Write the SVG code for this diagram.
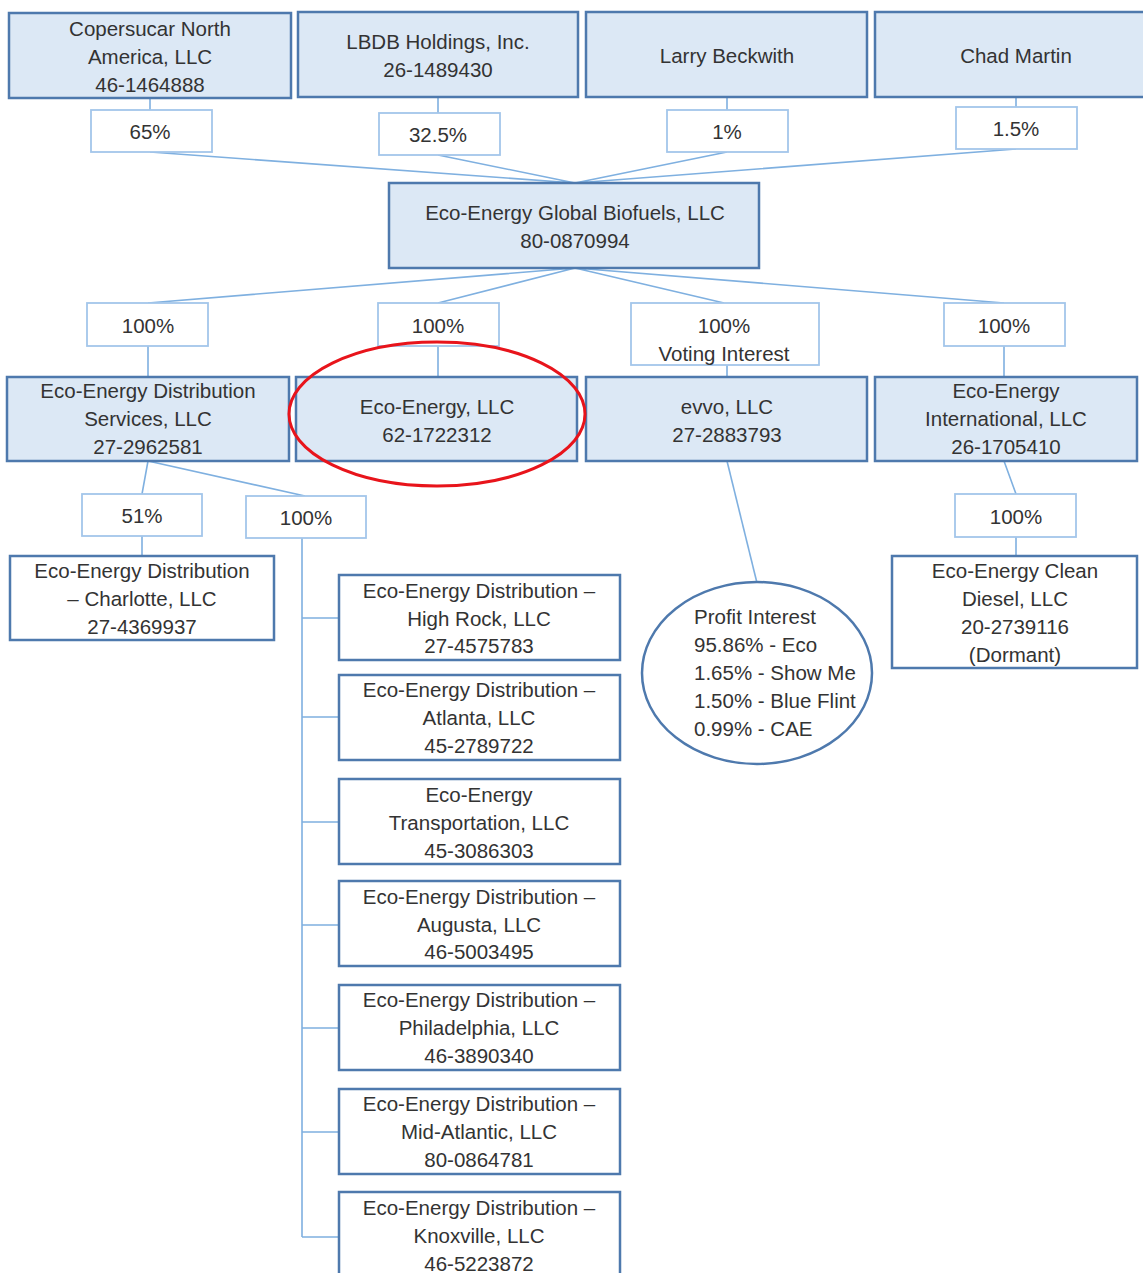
<svg xmlns="http://www.w3.org/2000/svg" width="1143" height="1273" viewBox="0 0 1143 1273">
<style>
text{font-family:"Liberation Sans",Arial,sans-serif;font-size:20.5px;fill:#333;text-anchor:middle}
.f{fill:#dce8f5;stroke:#4e79ad;stroke-width:2.5}
.w{fill:#fff;stroke:#4e79ad;stroke-width:2.5}
.p{fill:#fff;stroke:#a3c6ea;stroke-width:1.8}
.c{stroke:#7fb0e0;stroke-width:1.6;fill:none}
.l{text-anchor:start}
</style>
<rect width="1143" height="1273" fill="#fff"/>
<g id="connectors">
<path class="c" d="M150 98V110M438 97V113M727 97V110M1016 97V107"/>
<path class="c" d="M150 152L575 183M438 155L575 183M727 152L575 183M1016 149L575 183"/>
<path class="c" d="M575 268L148 303M575 268L438 303M575 268L724 303M575 268L1004 303"/>
<path class="c" d="M148 346V377M438 346V377M727 365V377M1004 346V377"/>
<path class="c" d="M148 461L142 494M148 461L305 496M142 536V556"/>
<path class="c" d="M302 538V1237M302 618H339M302 717H339M302 822H339M302 925H339M302 1028H339M302 1132H339M302 1237H339"/>
<path class="c" d="M727 461L757 583"/>
<path class="c" d="M1004 461L1016 494M1016 537V556"/>
</g>
<g id="n-copersucar"><rect class="f" x="9" y="13" width="282" height="85"/><text x="150" y="36">Copersucar North</text><text x="150" y="64">America, LLC</text><text x="150" y="92">46-1464888</text></g>
<g id="n-lbdb"><rect class="f" x="298" y="12" width="280" height="85"/><text x="438" y="49">LBDB Holdings, Inc.</text><text x="438" y="77">26-1489430</text></g>
<g id="n-larry"><rect class="f" x="586" y="12" width="281" height="85"/><text x="727" y="63">Larry Beckwith</text></g>
<g id="n-chad"><rect class="f" x="875" y="12" width="275" height="85"/><text x="1016" y="63">Chad Martin</text></g>
<g id="p-65"><rect class="p" x="91" y="110" width="121" height="42"/><text x="150" y="139">65%</text></g>
<g id="p-325"><rect class="p" x="379" y="113" width="121" height="42"/><text x="438" y="142">32.5%</text></g>
<g id="p-1"><rect class="p" x="667" y="110" width="121" height="42"/><text x="727" y="139">1%</text></g>
<g id="p-15"><rect class="p" x="956" y="107" width="121" height="42"/><text x="1016" y="136">1.5%</text></g>
<g id="n-global"><rect class="f" x="389" y="183" width="370" height="85"/><text x="575" y="220">Eco-Energy Global Biofuels, LLC</text><text x="575" y="248">80-0870994</text></g>
<g id="p-dist"><rect class="p" x="87" y="303" width="121" height="43"/><text x="148" y="333">100%</text></g>
<g id="p-eco"><rect class="p" x="378" y="303" width="121" height="43"/><text x="438" y="333">100%</text></g>
<g id="p-evvo"><rect class="p" x="631" y="303" width="188" height="62"/><text x="724" y="333">100%</text><text x="724" y="361">Voting Interest</text></g>
<g id="p-intl"><rect class="p" x="944" y="303" width="121" height="43"/><text x="1004" y="333">100%</text></g>
<g id="n-distsvc"><rect class="f" x="7" y="377" width="282" height="84"/><text x="148" y="398">Eco-Energy Distribution</text><text x="148" y="426">Services, LLC</text><text x="148" y="454">27-2962581</text></g>
<g id="n-ecoenergy"><rect class="f" x="296" y="377" width="281" height="84"/><text x="437" y="414">Eco-Energy, LLC</text><text x="437" y="442">62-1722312</text></g>
<g id="n-evvo"><rect class="f" x="586" y="377" width="281" height="84"/><text x="727" y="414">evvo, LLC</text><text x="727" y="442">27-2883793</text></g>
<g id="n-intl"><rect class="f" x="875" y="377" width="262" height="84"/><text x="1006" y="398">Eco-Energy</text><text x="1006" y="426">International, LLC</text><text x="1006" y="454">26-1705410</text></g>
<g id="highlight"><ellipse cx="437" cy="414" rx="148" ry="72" fill="none" stroke="#e8141b" stroke-width="3"/></g>
<g id="p-51"><rect class="p" x="82" y="494" width="120" height="42"/><text x="142" y="523">51%</text></g>
<g id="p-100b"><rect class="p" x="246" y="496" width="120" height="42"/><text x="306" y="525">100%</text></g>
<g id="p-100c"><rect class="p" x="955" y="494" width="121" height="43"/><text x="1016" y="524">100%</text></g>
<g id="n-charlotte"><rect class="w" x="10" y="556" width="264" height="84"/><text x="142" y="578">Eco-Energy Distribution</text><text x="142" y="606">– Charlotte, LLC</text><text x="142" y="634">27-4369937</text></g>
<g id="n-highrock"><rect class="w" x="339" y="575" width="281" height="85"/><text x="479" y="598">Eco-Energy Distribution –</text><text x="479" y="626">High Rock, LLC</text><text x="479" y="653">27-4575783</text></g>
<g id="n-atlanta"><rect class="w" x="339" y="675" width="281" height="85"/><text x="479" y="697">Eco-Energy Distribution –</text><text x="479" y="725">Atlanta, LLC</text><text x="479" y="753">45-2789722</text></g>
<g id="n-transport"><rect class="w" x="339" y="779" width="281" height="85"/><text x="479" y="802">Eco-Energy</text><text x="479" y="830">Transportation, LLC</text><text x="479" y="858">45-3086303</text></g>
<g id="n-augusta"><rect class="w" x="339" y="881" width="281" height="85"/><text x="479" y="904">Eco-Energy Distribution –</text><text x="479" y="932">Augusta, LLC</text><text x="479" y="959">46-5003495</text></g>
<g id="n-philly"><rect class="w" x="339" y="985" width="281" height="85"/><text x="479" y="1007">Eco-Energy Distribution –</text><text x="479" y="1035">Philadelphia, LLC</text><text x="479" y="1063">46-3890340</text></g>
<g id="n-midatl"><rect class="w" x="339" y="1089" width="281" height="85"/><text x="479" y="1111">Eco-Energy Distribution –</text><text x="479" y="1139">Mid-Atlantic, LLC</text><text x="479" y="1167">80-0864781</text></g>
<g id="n-knox"><rect class="w" x="339" y="1192" width="281" height="90"/><text x="479" y="1215">Eco-Energy Distribution –</text><text x="479" y="1243">Knoxville, LLC</text><text x="479" y="1271">46-5223872</text></g>
<g id="n-profit"><ellipse cx="757" cy="673" rx="115" ry="91" fill="#fff" stroke="#4e79ad" stroke-width="2.5"/><text class="l" x="694" y="624">Profit Interest</text><text class="l" x="694" y="652">95.86% - Eco</text><text class="l" x="694" y="680">1.65% - Show Me</text><text class="l" x="694" y="708">1.50% - Blue Flint</text><text class="l" x="694" y="736">0.99% - CAE</text></g>
<g id="n-diesel"><rect class="w" x="892" y="556" width="245" height="112"/><text x="1015" y="578">Eco-Energy Clean</text><text x="1015" y="606">Diesel, LLC</text><text x="1015" y="634">20-2739116</text><text x="1015" y="662">(Dormant)</text></g>
</svg>
